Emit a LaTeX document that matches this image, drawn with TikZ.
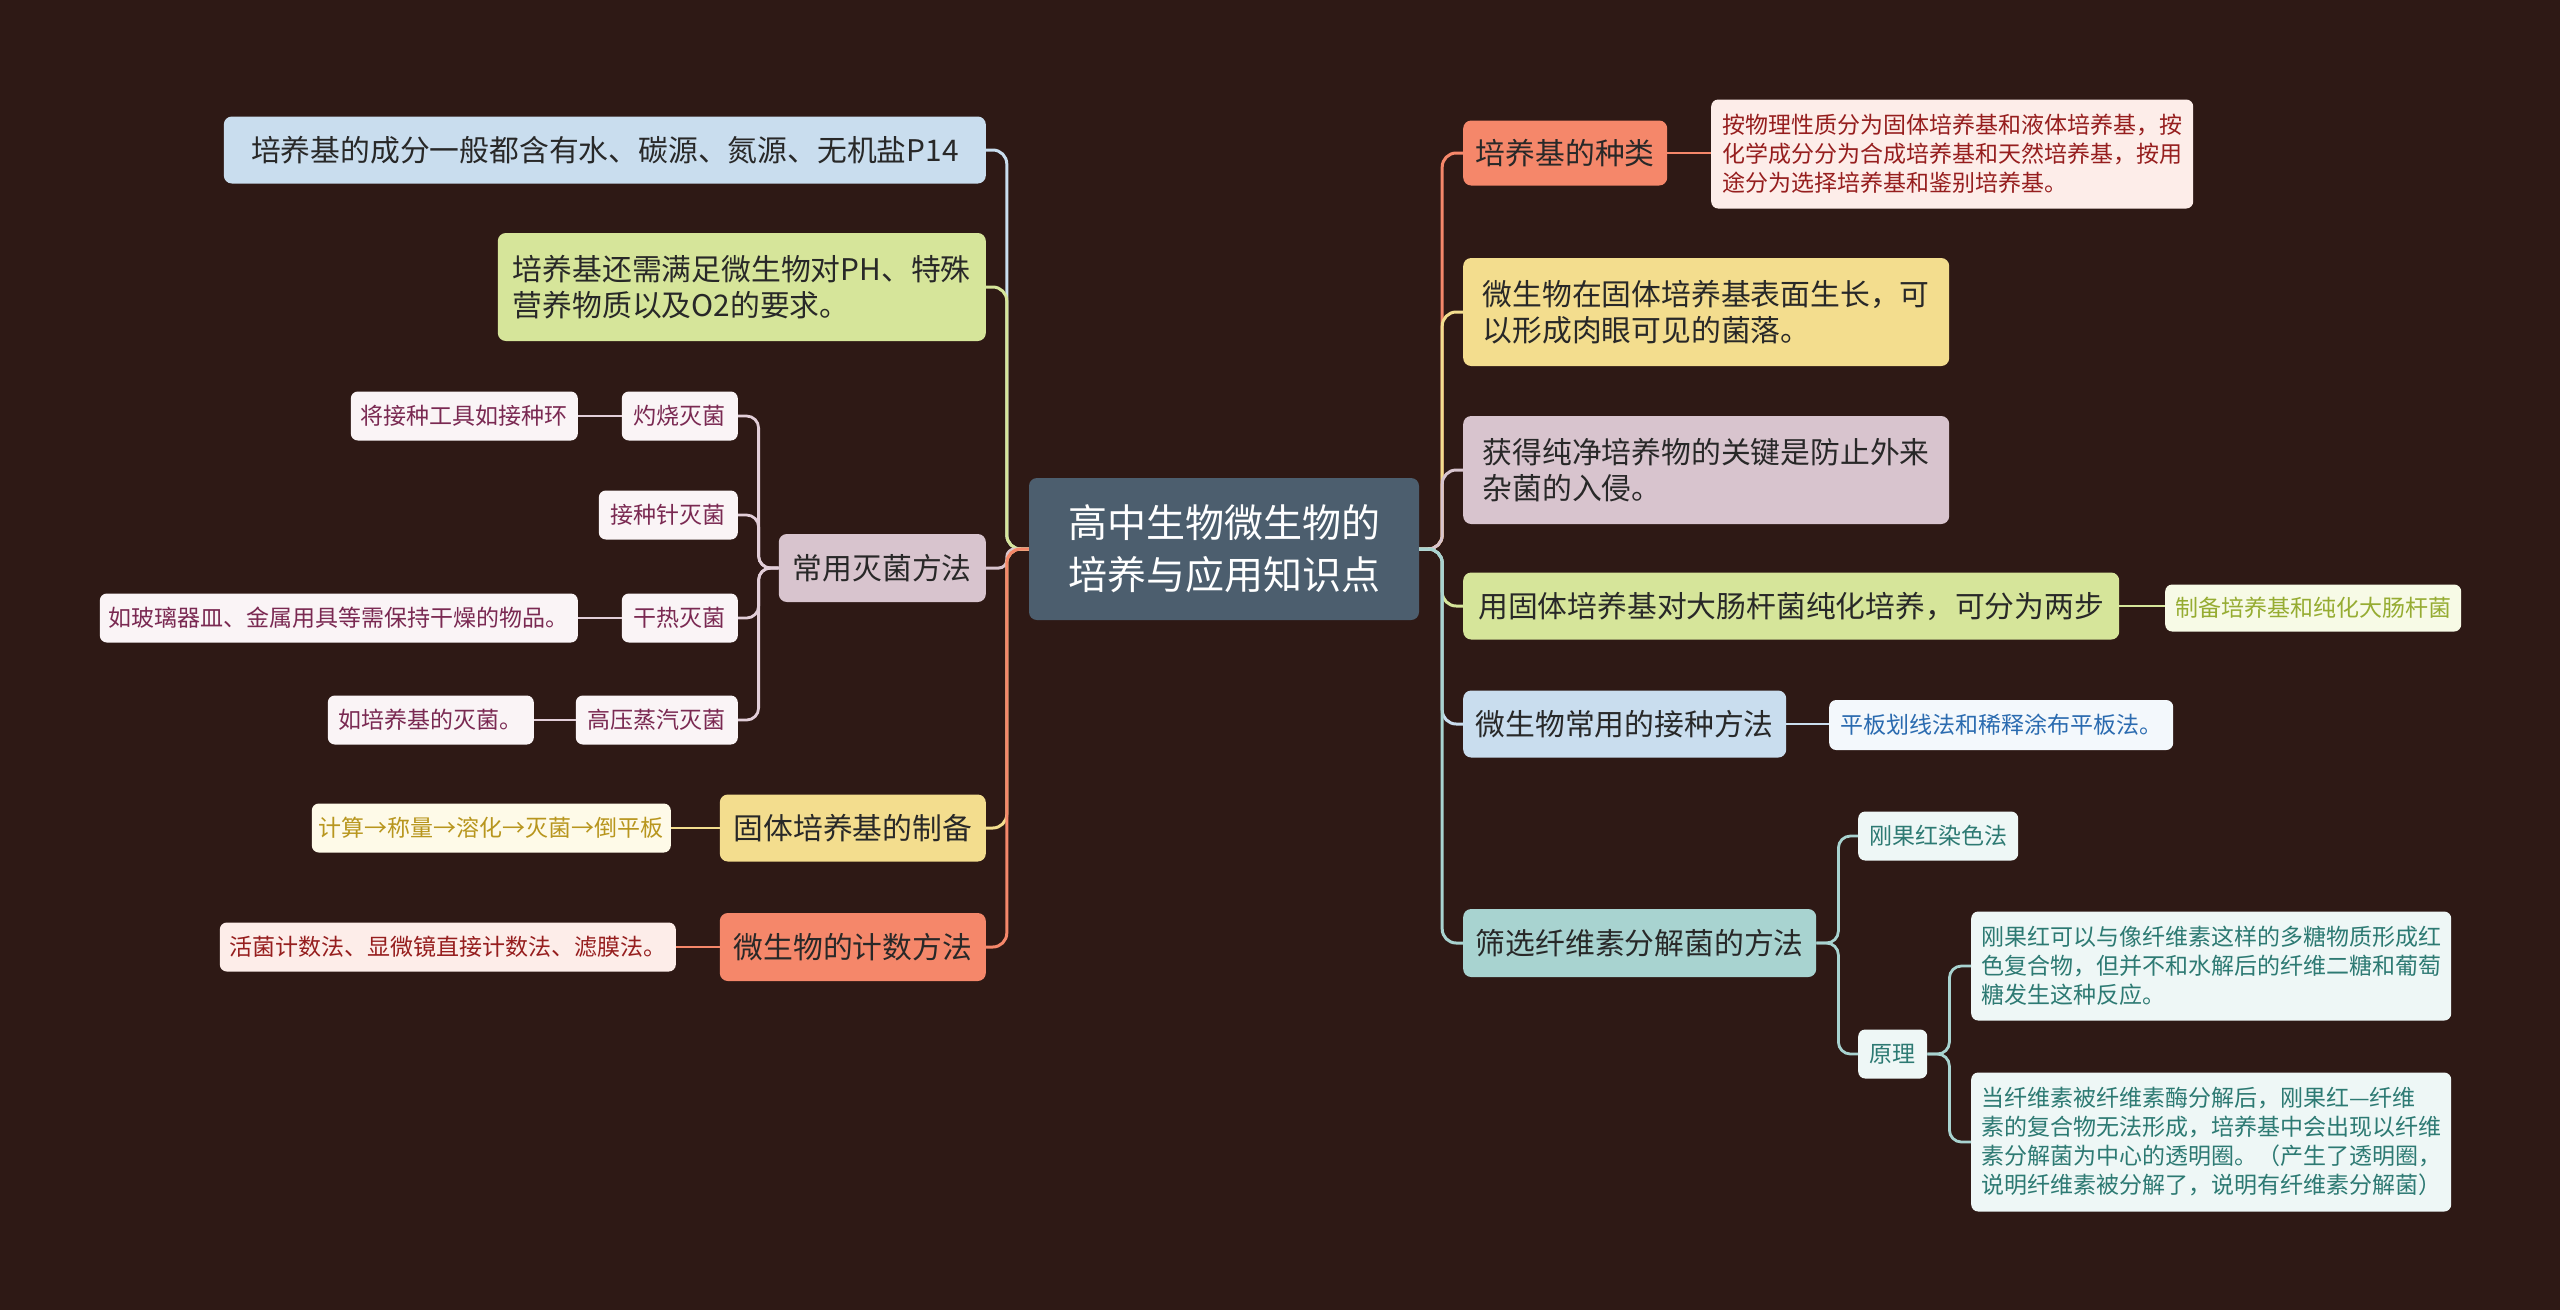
\documentclass[tikz,border=0pt]{standalone}
\usepackage{fontspec}
\setmainfont{Noto Sans CJK SC}
\usepackage{tikz}
\usepackage{xcolor}
\definecolor{bgbrown}{RGB}{46, 25, 21}
\definecolor{rootfill}{RGB}{76, 94, 110}
\definecolor{txtdark}{RGB}{40, 40, 40}
% asosiy tugun ranglari
\definecolor{fillBlue}{RGB}{201, 221, 238}
\definecolor{fillLime}{RGB}{214, 229, 154}
\definecolor{fillMauve}{RGB}{216, 196, 206}
\definecolor{fillSand}{RGB}{243, 221, 142}
\definecolor{fillCoral}{RGB}{245, 135, 106}
\definecolor{fillTeal}{RGB}{168, 211, 208}
% kichik tugun ranglari
\definecolor{paleMauve}{RGB}{250, 244, 246}
\definecolor{paleSand}{RGB}{254, 250, 232}
\definecolor{paleCoral}{RGB}{253, 237, 233}
\definecolor{paleLime}{RGB}{247, 250, 230}
\definecolor{paleBlue}{RGB}{243, 248, 252}
\definecolor{paleTeal}{RGB}{238, 247, 246}
\definecolor{txtMauve}{RGB}{122, 41, 82}
\definecolor{txtSand}{RGB}{184, 150, 30}
\definecolor{txtCoral}{RGB}{150, 30, 30}
\definecolor{txtLime}{RGB}{150, 172, 50}
\definecolor{txtBlue}{RGB}{42, 107, 176}
\definecolor{txtTeal}{RGB}{45, 122, 115}
\definecolor{lineMauve}{RGB}{226, 206, 216}
\tikzset{
  % markaziy tugun
  rootbox/.style = {rounded corners=8pt, fill=rootfill, text=white, inner sep=0pt,
                    font=\fontsize{39}{52}\selectfont, align=center},
  % birinchi daraja
  mainbox/.style = {rounded corners=8pt, inner sep=0pt, text=txtdark,
                    font=\fontsize{29.8}{36}\selectfont, align=left},
  % ikkinchi daraja
  subbox/.style  = {rounded corners=7pt, inner sep=0pt,
                    font=\fontsize{23}{29}\selectfont, align=left},
  mauvebox/.style = {subbox, fill=paleMauve, text=txtMauve},
  tealbox/.style  = {subbox, fill=paleTeal, text=txtTeal},
  % bog'lovchi chiziqlar
  conn/.style    = {line width=3pt, rounded corners=14pt},
  subconn/.style = {line width=2.8pt, rounded corners=12pt},
}
\begin{document}
\begin{tikzpicture}[x=1pt, y=-1pt]
  % fon
  \fill[bgbrown] (0,0) rectangle (2560,1310);
  % markaz
  \node[rootbox, minimum width=390pt, minimum height=142pt] (root) at (1224,549)
    {高中生物微生物的\\培养与应用知识点};
  % chap tomon
  \node[mainbox, fill=fillBlue, minimum width=762pt, minimum height=67pt, anchor=east] (comp) at (986,150)
    {培养基的成分一般都含有水、碳源、氮源、无机盐P14};
  \node[mainbox, fill=fillLime, minimum width=488pt, minimum height=108pt, anchor=east] (need) at (986,287)
    {培养基还需满足微生物对PH、特殊\\营养物质以及O2的要求。};
  \node[mainbox, fill=fillMauve, minimum width=207pt, minimum height=68pt, anchor=east] (steril) at (986,568)
    {常用灭菌方法};
  \node[mainbox, fill=fillSand, minimum width=266pt, minimum height=67pt, anchor=east] (solid) at (986,828)
    {固体培养基的制备};
  \node[mainbox, fill=fillCoral, minimum width=266pt, minimum height=68pt, anchor=east] (count) at (986,947)
    {微生物的计数方法};
  %灭菌 bo'limi
  \node[mauvebox, minimum width=116pt, minimum height=49pt, anchor=east] (burn) at (738,416) {灼烧灭菌};
  \node[mauvebox, minimum width=139pt, minimum height=49pt, anchor=east] (needle) at (738,515) {接种针灭菌};
  \node[mauvebox, minimum width=116pt, minimum height=49pt, anchor=east] (dry) at (738,618) {干热灭菌};
  \node[mauvebox, minimum width=162pt, minimum height=49pt, anchor=east] (steam) at (738,720) {高压蒸汽灭菌};
  \node[mauvebox, minimum width=227pt, minimum height=49pt, anchor=east] (burnnote) at (578,416) {将接种工具如接种环};
  \node[mauvebox, minimum width=478pt, minimum height=49pt, anchor=east] (drynote) at (578,618)
    {如玻璃器皿、金属用具等需保持干燥的物品。};
  \node[mauvebox, minimum width=206pt, minimum height=49pt, anchor=east] (steamnote) at (534,720) {如培养基的灭菌。};
  \node[subbox, fill=paleSand, text=txtSand, minimum width=359pt, minimum height=49pt, anchor=east] (solidnote) at (671,828)
    {计算→称量→溶化→灭菌→倒平板};
  \node[subbox, fill=paleCoral, text=txtCoral, minimum width=456pt, minimum height=49pt, anchor=east] (countnote) at (676,947)
    {活菌计数法、显微镜直接计数法、滤膜法。};
  % o'ng tomon
  \node[mainbox, fill=fillCoral, minimum width=204pt, minimum height=65pt, anchor=west] (kind) at (1463,153)
    {培养基的种类};
  \node[mainbox, fill=fillSand, minimum width=486pt, minimum height=108pt, anchor=west] (colony) at (1463,312)
    {微生物在固体培养基表面生长，可\\以形成肉眼可见的菌落。};
  \node[mainbox, fill=fillMauve, minimum width=486pt, minimum height=108pt, anchor=west] (pure) at (1463,470)
    {获得纯净培养物的关键是防止外来\\杂菌的入侵。};
  \node[mainbox, fill=fillLime, minimum width=656pt, minimum height=67pt, anchor=west] (ecoli) at (1463,606)
    {用固体培养基对大肠杆菌纯化培养，可分为两步};
  \node[mainbox, fill=fillBlue, minimum width=323pt, minimum height=67pt, anchor=west] (inoc) at (1463,724)
    {微生物常用的接种方法};
  \node[mainbox, fill=fillTeal, minimum width=353pt, minimum height=68pt, anchor=west] (screen) at (1463,943)
    {筛选纤维素分解菌的方法};
  \node[subbox, fill=paleCoral, text=txtCoral, minimum width=482pt, minimum height=109pt, anchor=west] (kindnote) at (1711,154)
    {按物理性质分为固体培养基和液体培养基，按\\化学成分分为合成培养基和天然培养基，按用\\途分为选择培养基和鉴别培养基。};
  \node[subbox, fill=paleLime, text=txtLime, minimum width=296pt, minimum height=47pt, anchor=west] (ecolinote) at (2165,608)
    {制备培养基和纯化大肠杆菌};
  \node[subbox, fill=paleBlue, text=txtBlue, minimum width=344pt, minimum height=50pt, anchor=west] (inocnote) at (1829,725)
    {平板划线法和稀释涂布平板法。};
  \node[tealbox, minimum width=160pt, minimum height=49pt, anchor=west] (congo) at (1858,836) {刚果红染色法};
  \node[tealbox, minimum width=69pt, minimum height=49pt, anchor=west] (basis) at (1858,1054) {原理};
  \node[tealbox, minimum width=480pt, minimum height=109pt, anchor=west] (basisA) at (1971,966)
    {刚果红可以与像纤维素这样的多糖物质形成红\\色复合物，但并不和水解后的纤维二糖和葡萄\\糖发生这种反应。};
  \node[tealbox, minimum width=480pt, minimum height=139pt, anchor=west] (basisB) at (1971,1142)
    {当纤维素被纤维素酶分解后，刚果红—纤维\\素的复合物无法形成，培养基中会出现以纤维\\素分解菌为中心的透明圈。（产生了透明圈，\\说明纤维素被分解了，说明有纤维素分解菌）};
  % chap bog'lovchilar
  \draw[conn, fillBlue]  (root.west) -- ++(-22,0) |- (comp.east);
  \draw[conn, fillLime]  (root.west) -- ++(-22,0) |- (need.east);
  \draw[conn, fillMauve, rounded corners=8pt] (root.west) -- ++(-22,0) |- (steril.east);
  \draw[conn, fillSand]  (root.west) -- ++(-22,0) |- (solid.east);
  \draw[conn, fillCoral] (root.west) -- ++(-22,0) |- (count.east);
  \foreach \k in {burn, needle, dry, steam}
    \draw[subconn, lineMauve] (steril.west) -- ++(-20,0) |- (\k.east);
  \draw[subconn, lineMauve] (burn.west) -- (burnnote.east);
  \draw[subconn, lineMauve] (dry.west) -- (drynote.east);
  \draw[subconn, lineMauve] (steam.west) -- (steamnote.east);
  \draw[subconn, fillSand]  (solid.west) -- (solidnote.east);
  \draw[subconn, fillCoral] (count.west) -- (countnote.east);
  % o'ng bog'lovchilar
  \draw[conn, fillCoral] (root.east) -- ++(23,0) |- (kind.west);
  \draw[conn, fillSand]  (root.east) -- ++(23,0) |- (colony.west);
  \draw[conn, fillMauve] (root.east) -- ++(23,0) |- (pure.west);
  \draw[conn, fillLime]  (root.east) -- ++(23,0) |- (ecoli.west);
  \draw[conn, fillBlue]  (root.east) -- ++(23,0) |- (inoc.west);
  \draw[conn, fillTeal]  (root.east) -- ++(23,0) |- (screen.west);
  \draw[subconn, fillCoral] (kind.east) -- (kindnote.west |- kind.east);
  \draw[subconn, fillLime]  (ecoli.east) -- (ecolinote.west |- ecoli.east);
  \draw[subconn, fillBlue]  (inoc.east) -- (inocnote.west |- inoc.east);
  \draw[subconn, fillTeal]  (screen.east) -- ++(22,0) |- (congo.west);
  \draw[subconn, fillTeal]  (screen.east) -- ++(22,0) |- (basis.west);
  \draw[subconn, fillTeal]  (basis.east) -- ++(22,0) |- (basisA.west);
  \draw[subconn, fillTeal]  (basis.east) -- ++(22,0) |- (basisB.west);
\end{tikzpicture}
\end{document}
